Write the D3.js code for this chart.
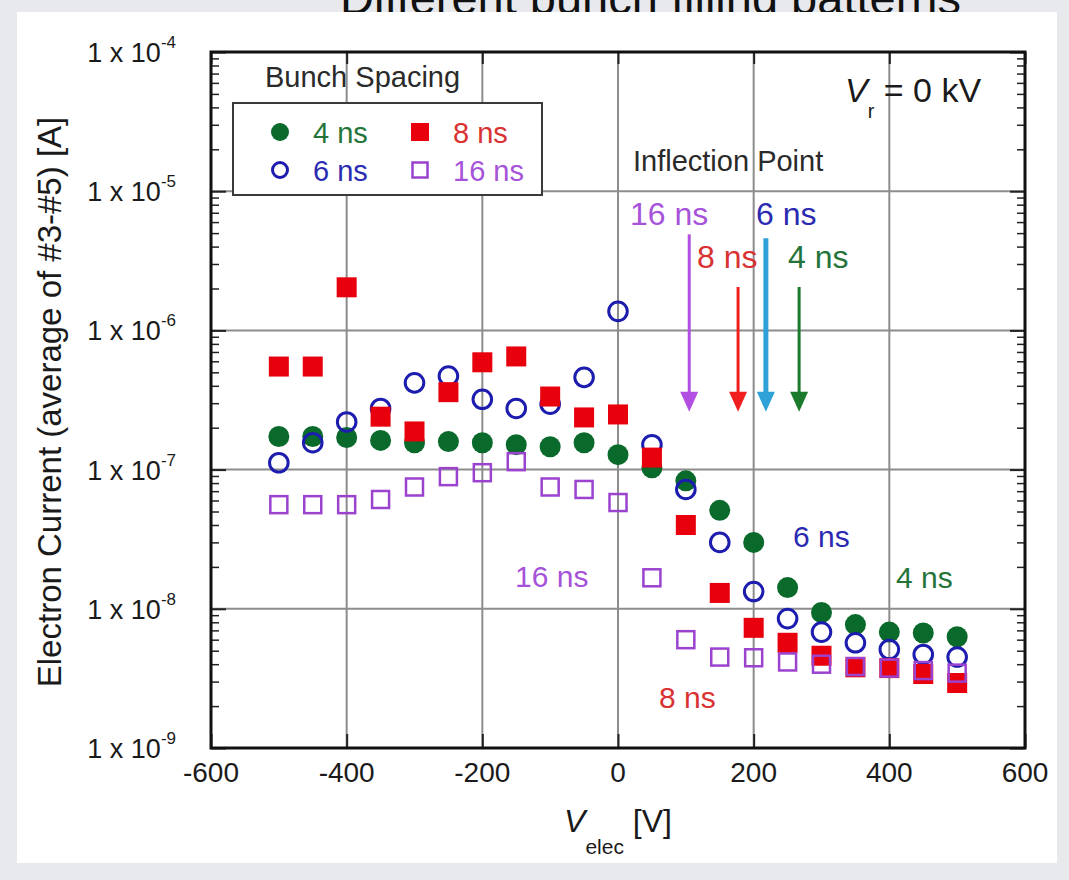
<!DOCTYPE html>
<html>
<head>
<meta charset="utf-8">
<script src="https://cdn.jsdelivr.net/npm/d3@7"></script>
<style>
  html, body { margin: 0; padding: 0; background: #e8e9ed; }
  svg { display: block; font-family: "Liberation Sans", Arial, Helvetica, sans-serif; }
</style>
</head>
<body>
<svg id="chart" width="1069" height="880"></svg>
<script>
// ---------------- data ----------------
const vElec = [-500,-450,-400,-350,-300,-250,-200,-150,-100,-50,0,50,100,150,200,250,300,350,400,450,500];
const cur4ns  = [1.73e-7,1.73e-7,1.70e-7,1.62e-7,1.56e-7,1.59e-7,1.56e-7,1.51e-7,1.46e-7,1.56e-7,1.28e-7,1.03e-7,8.3e-8,5.1e-8,3.0e-8,1.42e-8,9.4e-9,7.7e-9,6.8e-9,6.7e-9,6.3e-9];
const cur6ns  = [1.12e-7,1.56e-7,2.2e-7,2.75e-7,4.2e-7,4.7e-7,3.2e-7,2.75e-7,2.95e-7,4.6e-7,1.37e-6,1.51e-7,7.2e-8,3.0e-8,1.33e-8,8.5e-9,6.8e-9,5.7e-9,5.1e-9,4.7e-9,4.5e-9];
const cur8ns  = [5.5e-7,5.5e-7,2.04e-6,2.4e-7,1.88e-7,3.6e-7,5.9e-7,6.5e-7,3.35e-7,2.37e-7,2.49e-7,1.22e-7,4.0e-8,1.3e-8,7.3e-9,5.7e-9,4.6e-9,3.8e-9,3.75e-9,3.4e-9,2.93e-9];
const cur16ns = [5.6e-8,5.6e-8,5.6e-8,6.1e-8,7.5e-8,8.9e-8,9.5e-8,1.14e-7,7.5e-8,7.2e-8,5.8e-8,1.67e-8,6.0e-9,4.5e-9,4.45e-9,4.15e-9,4.0e-9,3.85e-9,3.75e-9,3.6e-9,3.45e-9];

const seriesNames = ["4 ns", "6 ns", "8 ns", "16 ns"];
const xTicks = [-600,-400,-200,0,200,400,600];
const yTickExps = [-4,-5,-6,-7,-8,-9];

// inflection point arrows
const inflectLabels = ["16 ns", "8 ns", "6 ns", "4 ns"];
const inflectV      = [105, 177, 218, 267];
const inflectTop    = [4.9e-6, 2.05e-6, 4.6e-6, 2.05e-6];
const inflectTip    = [2.6e-7, 2.6e-7, 2.6e-7, 2.6e-7];

// ---------------- layout ----------------
const svg = d3.select("#chart");
const L = 211, R = 1025, T = 52, B = 748;

const x = d3.scaleLinear().domain([-600, 600]).range([L, R]);
const y = d3.scaleLog().domain([1e-9, 1e-4]).range([B, T]);

const colors = {
  "4 ns":  "#0a6a2c",
  "6 ns":  "#1c1cae",
  "8 ns":  "#e8000c",
  "16 ns": "#9b42cf"
};
const textColors = {
  "4 ns":  "#24743a",
  "6 ns":  "#2b2bb2",
  "8 ns":  "#d93232",
  "16 ns": "#a653d9"
};
const arrowColors = ["#b24fe2", "#f01e1e", "#2ea2d8", "#1b7a2e"];

// title (cut off at top of panel, as in the source)
svg.append("text").attr("x", 340).attr("y", 14)
  .attr("font-size", 47).attr("fill", "#111")
  .text("Different bunch filling patterns");

// white panel
svg.append("rect").attr("x", 17).attr("y", 12).attr("width", 1040).attr("height", 851).attr("fill", "#ffffff");

// gridlines
const grid = svg.append("g");
[-400,-200,0,200,400].forEach(v => {
  grid.append("line").attr("x1", x(v)).attr("x2", x(v)).attr("y1", T).attr("y2", B)
    .attr("stroke", "#8c8c8c").attr("stroke-width", 2);
});
yTickExps.slice(1, -1).forEach(e => {
  grid.append("line").attr("x1", L).attr("x2", R).attr("y1", y(Math.pow(10, e))).attr("y2", y(Math.pow(10, e)))
    .attr("stroke", "#8c8c8c").attr("stroke-width", 2);
});

// axes (ticks inward)
const xAxisB = d3.axisBottom(x).tickValues(xTicks).tickSize(-14).tickFormat("");
const xAxisT = d3.axisTop(x).tickValues(xTicks).tickSize(-12).tickFormat("");
svg.append("g").attr("transform", `translate(0,${B})`).call(xAxisB)
  .call(g => g.select(".domain").remove()).selectAll("line").attr("stroke", "#222").attr("stroke-width", 2);
svg.append("g").attr("transform", `translate(0,${T})`).call(xAxisT)
  .call(g => g.select(".domain").remove()).selectAll("line").attr("stroke", "#222").attr("stroke-width", 2);

const minorVals = [];
for (let e = -9; e < -4; e++) for (let m = 2; m <= 9; m++) minorVals.push(m * Math.pow(10, e));
const majorVals = yTickExps.map(e => Math.pow(10, e));
[[d3.axisLeft, L], [d3.axisRight, R]].forEach(([ax, px]) => {
  svg.append("g").attr("transform", `translate(${px},0)`)
    .call(ax(y).tickValues(minorVals).tickSize(-8).tickFormat(""))
    .call(g => g.select(".domain").remove()).selectAll("line").attr("stroke", "#222").attr("stroke-width", 1.5);
  svg.append("g").attr("transform", `translate(${px},0)`)
    .call(ax(y).tickValues(majorVals).tickSize(-15).tickFormat(""))
    .call(g => g.select(".domain").remove()).selectAll("line").attr("stroke", "#222").attr("stroke-width", 2);
});

// frame
svg.append("rect").attr("x", L).attr("y", T).attr("width", R - L).attr("height", B - T)
  .attr("fill", "none").attr("stroke", "#111").attr("stroke-width", 3);

// x tick labels
svg.append("g").selectAll("text").data(xTicks).join("text")
  .attr("x", d => x(d)).attr("y", B + 34).attr("text-anchor", "middle")
  .attr("font-size", 28).attr("fill", "#1a1a1a").text(d => d);

// y tick labels
const ylab = svg.append("g").selectAll("text").data(yTickExps).join("text")
  .attr("x", 176).attr("y", d => y(Math.pow(10, d)) + 10).attr("text-anchor", "end")
  .attr("font-size", 27).attr("fill", "#1a1a1a");
ylab.append("tspan").text("1 x 10");
ylab.append("tspan").attr("dy", -14).attr("font-size", 17).text(d => "" + d);

// axis titles
svg.append("text").attr("transform", `translate(61,${(T + B) / 2 + 2}) rotate(-90)`)
  .attr("text-anchor", "middle").attr("font-size", 33).attr("fill", "#1a1a1a")
  .text("Electron Current (average of #3-#5) [A]");

const xt = svg.append("text").attr("x", 618).attr("y", 832).attr("text-anchor", "middle")
  .attr("font-size", 32).attr("fill", "#1a1a1a");
xt.append("tspan").attr("font-style", "italic").text("V");
xt.append("tspan").attr("dy", 22).attr("font-size", 21).text("elec");
xt.append("tspan").attr("dy", -22).text(" [V]");

// ---------------- markers ----------------
const pts = (vals) => vElec.map((v, i) => ({ v, c: vals[i] }));
const gm = svg.append("g");

gm.append("g").selectAll("circle").data(pts(cur4ns)).join("circle")
  .attr("cx", d => x(d.v)).attr("cy", d => y(d.c)).attr("r", 10.5)
  .attr("fill", colors["4 ns"]);

gm.append("g").selectAll("circle").data(pts(cur6ns)).join("circle")
  .attr("cx", d => x(d.v)).attr("cy", d => y(d.c)).attr("r", 9.3)
  .attr("fill", "none").attr("stroke", colors["6 ns"]).attr("stroke-width", 3);

gm.append("g").selectAll("rect").data(pts(cur8ns)).join("rect")
  .attr("x", d => x(d.v) - 10).attr("y", d => y(d.c) - 10).attr("width", 20).attr("height", 20)
  .attr("fill", colors["8 ns"]);

gm.append("g").selectAll("rect").data(pts(cur16ns)).join("rect")
  .attr("x", d => x(d.v) - 8.5).attr("y", d => y(d.c) - 8.5).attr("width", 17).attr("height", 17)
  .attr("fill", "none").attr("stroke", colors["16 ns"]).attr("stroke-width", 2.5);

// ---------------- legend ----------------
svg.append("text").attr("x", 265).attr("y", 87).attr("font-size", 29).attr("fill", "#2a2a2a").text("Bunch Spacing");
svg.append("rect").attr("x", 233).attr("y", 103).attr("width", 309).attr("height", 92)
  .attr("fill", "#fff").attr("stroke", "#3a3a3a").attr("stroke-width", 2);

const legendItems = [
  { name: "4 ns",  mx: 280, my: 132, shape: "dot" },
  { name: "8 ns",  mx: 420, my: 132, shape: "sq" },
  { name: "6 ns",  mx: 280, my: 170, shape: "ring" },
  { name: "16 ns", mx: 420, my: 170, shape: "box" }
];
const lg = svg.append("g");
legendItems.forEach(it => {
  const c = colors[it.name];
  if (it.shape === "dot") lg.append("circle").attr("cx", it.mx).attr("cy", it.my).attr("r", 9).attr("fill", c);
  if (it.shape === "ring") lg.append("circle").attr("cx", it.mx).attr("cy", it.my).attr("r", 7.5).attr("fill", "none").attr("stroke", c).attr("stroke-width", 3);
  if (it.shape === "sq") lg.append("rect").attr("x", it.mx - 9).attr("y", it.my - 9).attr("width", 18).attr("height", 18).attr("fill", c);
  if (it.shape === "box") lg.append("rect").attr("x", it.mx - 7.5).attr("y", it.my - 7.5).attr("width", 15).attr("height", 15).attr("fill", "none").attr("stroke", c).attr("stroke-width", 2.5);
  lg.append("text").attr("x", it.mx + 33).attr("y", it.my + 11).attr("font-size", 29)
    .attr("fill", textColors[it.name]).text(it.name);
});

// ---------------- annotations ----------------
const vr = svg.append("text").attr("x", 845).attr("y", 102).attr("font-size", 34).attr("fill", "#1a1a1a");
vr.append("tspan").attr("font-style", "italic").text("V");
vr.append("tspan").attr("dy", 16).attr("font-size", 20).text("r");
vr.append("tspan").attr("dy", -16).text(" = 0 kV");

svg.append("text").attr("x", 633).attr("y", 171).attr("font-size", 29).attr("fill", "#2a2a2a").text("Inflection Point");

// arrow labels
const arrowLabelPos = [[630, 225], [697, 268], [756, 225], [788, 268]];
const arrowTextCol = [textColors["16 ns"], textColors["8 ns"], textColors["6 ns"], textColors["4 ns"]];
inflectLabels.forEach((lab, i) => {
  svg.append("text").attr("x", arrowLabelPos[i][0]).attr("y", arrowLabelPos[i][1])
    .attr("font-size", 32).attr("fill", arrowTextCol[i]).text(lab);
});

// arrows
const ga = svg.append("g");
inflectV.forEach((v, i) => {
  const ax = x(v), y0 = y(inflectTop[i]), y1 = y(inflectTip[i]);
  const w = i === 2 ? 5 : 3;
  ga.append("line").attr("x1", ax).attr("x2", ax).attr("y1", y0).attr("y2", y1 - 16)
    .attr("stroke", arrowColors[i]).attr("stroke-width", w);
  ga.append("path").attr("d", `M${ax - 9},${y1 - 20} L${ax + 9},${y1 - 20} L${ax},${y1} Z`)
    .attr("fill", arrowColors[i]);
});

// series labels in plot
const inPlotLabels = [
  { t: "6 ns",  x: 793, y: 547 },
  { t: "4 ns",  x: 896, y: 588 },
  { t: "16 ns", x: 515, y: 587 },
  { t: "8 ns",  x: 659, y: 708 }
];
inPlotLabels.forEach(d => {
  svg.append("text").attr("x", d.x).attr("y", d.y).attr("font-size", 30)
    .attr("fill", textColors[d.t]).text(d.t);
});
</script>
</body>
</html>
